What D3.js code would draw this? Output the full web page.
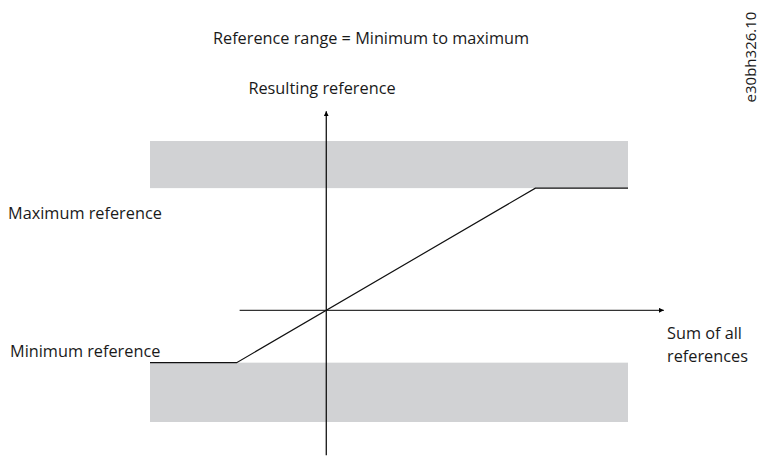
<!DOCTYPE html>
<html>
<head>
<meta charset="utf-8">
<script src="https://cdn.jsdelivr.net/npm/d3@7"></script>
<style>
  body { margin: 0; background: #fff; }
  text { font-family: "Open Sans", sans-serif; font-size: 16.3px; fill: #1a1a1a; }
</style>
</head>
<body>
<div id="chart"></div>
<script>
// Plage de référence = minimum à maximum

const width = 760;
const height = 457;

// Données (unités arbitraires)
const refMin = -3;
const refMax = 7;
const sumRange = [-5.9, 10.1];          // étendue des bandes grises en x
const bandTop = [refMax, 9.7];          // bande au-dessus du maximum
const bandBottom = [-6.4, refMin];      // bande sous le minimum
const curve = [[-5.9, refMin], [refMin, refMin], [refMax, refMax], [10.1, refMax]];
const xAxisExtent = [-2.9, 11.3];
const yAxisExtent = [-8.3, 11.4];

const x = d3.scaleLinear().domain([-5.9, 10.1]).range([150, 628]);
const y = d3.scaleLinear().domain([-6.4, 9.7]).range([422, 141]);

const svg = d3.select("#chart")
  .append("svg")
  .attr("width", width)
  .attr("height", height);

svg.append("defs").append("marker")
  .attr("id", "arrow")
  .attr("viewBox", "0 0 10 10")
  .attr("refX", 10)
  .attr("refY", 5)
  .attr("markerWidth", 5)
  .attr("markerHeight", 5)
  .attr("markerUnits", "userSpaceOnUse")
  .attr("orient", "auto")
  .append("path")
  .attr("d", "M0,0L10,5L0,10Z")
  .attr("fill", "#000");

// Bandes grises
[bandTop, bandBottom].forEach(b => {
  svg.append("rect")
    .attr("x", x(sumRange[0]))
    .attr("y", y(b[1]))
    .attr("width", x(sumRange[1]) - x(sumRange[0]))
    .attr("height", y(b[0]) - y(b[1]))
    .attr("fill", "#d1d2d4");
});

// Axes
svg.append("line")
  .attr("x1", x(xAxisExtent[0])).attr("x2", x(xAxisExtent[1]))
  .attr("y1", y(0)).attr("y2", y(0))
  .attr("stroke", "#000").attr("stroke-width", 1)
  .attr("marker-end", "url(#arrow)");

svg.append("line")
  .attr("x1", x(0)).attr("x2", x(0))
  .attr("y1", y(yAxisExtent[0])).attr("y2", y(yAxisExtent[1]))
  .attr("stroke", "#000").attr("stroke-width", 1.2)
  .attr("marker-end", "url(#arrow)");

// Courbe résultante
const line = d3.line().x(d => x(d[0])).y(d => y(d[1]));
svg.append("path")
  .datum(curve)
  .attr("d", line)
  .attr("fill", "none")
  .attr("stroke", "#111")
  .attr("stroke-width", 1.2);

// Textes
svg.append("text").attr("x", 371).attr("y", 44).attr("text-anchor", "middle")
  .text("Reference range = Minimum to maximum");
svg.append("text").attr("x", 322).attr("y", 94).attr("text-anchor", "middle")
  .text("Resulting reference");
svg.append("text").attr("x", 8).attr("y", 219).text("Maximum reference");
svg.append("text").attr("x", 10).attr("y", 357).text("Minimum reference");
svg.append("text").attr("x", 667).attr("y", 339).text("Sum of all");
svg.append("text").attr("x", 667).attr("y", 362).text("references");
svg.append("text")
  .attr("transform", "translate(756,57) rotate(-90)")
  .attr("text-anchor", "middle")
  .style("font-size", "15px")
  .text("e30bh326.10");
</script>
</body>
</html>
